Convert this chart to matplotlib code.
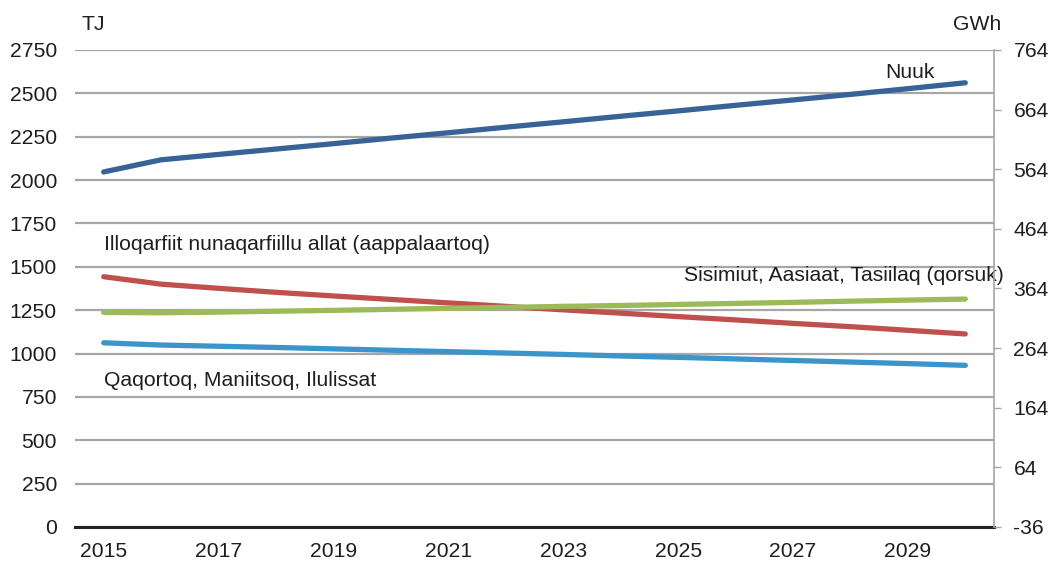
import matplotlib
matplotlib.use("Agg")
import matplotlib.pyplot as plt
import numpy as np

plt.rcParams['font.family'] = ['Liberation Sans', 'DejaVu Sans']

years = list(range(2015, 2031))
nuuk = [2047, 2117, 2148, 2179, 2210, 2242, 2273, 2305, 2336, 2368, 2399, 2431, 2462, 2494, 2527, 2561]
illoqarfiit = [1443, 1400, 1376, 1353, 1332, 1312, 1292, 1272, 1252, 1233, 1213, 1194, 1174, 1155, 1134, 1113]
sisimiut = [1237, 1235, 1239, 1244, 1249, 1255, 1261, 1266, 1272, 1277, 1283, 1289, 1295, 1302, 1308, 1314]
qaqortoq = [1062, 1049, 1042, 1035, 1027, 1019, 1011, 1003, 995, 986, 978, 969, 960, 951, 942, 932]

left_ticks = list(range(0, 2751, 250))
right_ticks = list(range(-36, 765, 100))
xtick_years = list(range(2015, 2030, 2))

c_nuuk = '#376396'
c_red = '#C0504D'
c_green = '#9BBB59'
c_lblue = '#3A95CB'
FS = 15.2
TC = '#1E1E1E'

fig = plt.figure(figsize=(10.49, 5.63), dpi=100)
ax = fig.add_axes([75/1049, 1-527/563, (994-75)/1049, (527-50)/563])

x = np.arange(len(years))
for vals, col in [(qaqortoq, c_lblue), (illoqarfiit, c_red), (sisimiut, c_green), (nuuk, c_nuuk)]:
    ax.plot(x, vals, color=col, lw=3.8, solid_capstyle='round', zorder=3)

ax.set_xlim(-0.5, len(years) - 0.5)
ax.set_ylim(0, 2750)
ax.set_yticks(left_ticks)
ax.set_yticklabels([str(v) for v in left_ticks], fontsize=FS)
ax.tick_params(axis='y', length=0, pad=13, colors=TC)
ax.grid(axis='y', color='#A6A6A6', lw=1.6, zorder=0)
ax.set_axisbelow(True)

xpos = [years.index(y) for y in xtick_years]
ax.set_xticks(xpos)
ax.set_xticklabels([str(y) for y in xtick_years], fontsize=FS)
ax.tick_params(axis='x', length=0, pad=11, colors=TC)

for s in ['left', 'top', 'right']:
    ax.spines[s].set_visible(False)
ax.spines['bottom'].set_color('#222222')
ax.spines['bottom'].set_linewidth(2.2)

ax2 = ax.twinx()
ax2.set_ylim(-36, 764)
ax2.set_yticks(right_ticks)
ax2.set_yticklabels([str(v) for v in right_ticks], fontsize=FS)
ax2.tick_params(axis='y', length=5, width=1, colors=TC, pad=9)
ax2.tick_params(axis='y', color='#A6A6A6')
for s in ['left', 'top', 'bottom']:
    ax2.spines[s].set_visible(False)
ax2.spines['right'].set_color('#A6A6A6')
ax2.spines['right'].set_linewidth(1.2)

fig.text(82/1049, 1-25/563, 'TJ', fontsize=FS, color=TC, ha='left', va='center')
fig.text(1001/1049, 1-25/563, 'GWh', fontsize=FS, color=TC, ha='right', va='center')

ax.text(13.6, 2620, 'Nuuk', fontsize=FS, color=TC, ha='left', va='center', zorder=4)
ax.text(0.0, 1630, 'Illoqarfiit nunaqarfiillu allat (aappalaartoq)', fontsize=FS, color=TC, ha='left', va='center')
ax.text(10.1, 1450, 'Sisimiut, Aasiaat, Tasiilaq (qorsuk)', fontsize=FS, color=TC, ha='left', va='center', clip_on=False)
ax.text(0.0, 845, 'Qaqortoq, Maniitsoq, Ilulissat', fontsize=FS, color=TC, ha='left', va='center')

fig.savefig('out.png', dpi=100)
